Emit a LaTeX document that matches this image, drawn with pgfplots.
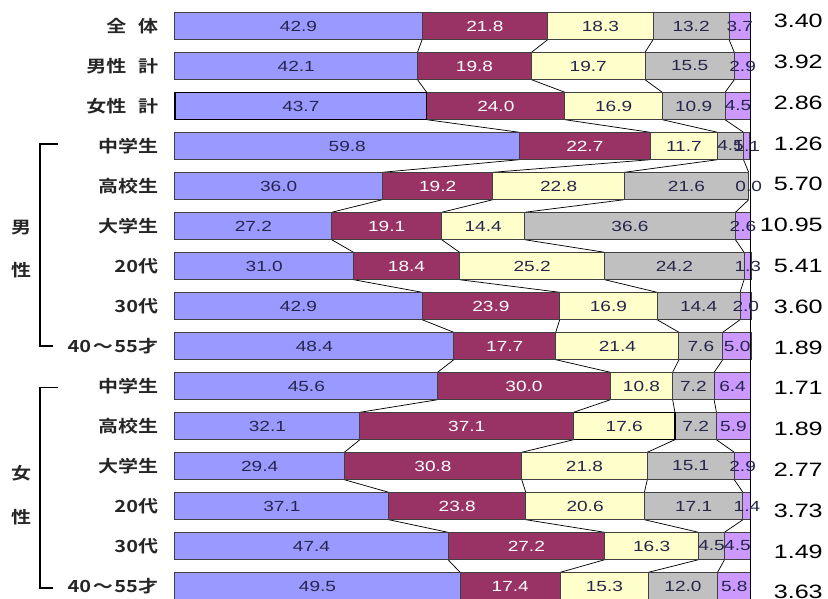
\documentclass[border=0pt]{standalone}
\usepackage{pgfplots}
\usepackage{pgfplotstable}
\pgfplotsset{compat=1.18}
\usepackage{fontspec}
\setmainfont{Liberation Sans}
\newfontfamily\numfont[FakeStretch=1.3]{Liberation Sans}
\newfontfamily\jpfont[FakeStretch=1.2, BoldFont={Noto Sans CJK JP Bold}]{Noto Sans CJK JP}

\definecolor{cA}{HTML}{9999FF}
\definecolor{cB}{HTML}{993366}
\definecolor{cC}{HTML}{FFFFCC}
\definecolor{cD}{HTML}{C0C0C0}
\definecolor{cE}{HTML}{CC99FF}
\definecolor{edge}{HTML}{404040}
\definecolor{ink}{HTML}{26264D}

% shares (%) of the five answer groups per respondent group, and the mean value
\pgfplotstableread{
y a b c d e avg
0 42.9 21.8 18.3 13.2 3.7 3.40
1 42.1 19.8 19.7 15.5 2.9 3.92
2 43.7 24.0 16.9 10.9 4.5 2.86
3 59.8 22.7 11.7 4.5 1.1 1.26
4 36.0 19.2 22.8 21.6 0.0 5.70
5 27.2 19.1 14.4 36.6 2.6 10.95
6 31.0 18.4 25.2 24.2 1.3 5.41
7 42.9 23.9 16.9 14.4 2.0 3.60
8 48.4 17.7 21.4 7.6 5.0 1.89
9 45.6 30.0 10.8 7.2 6.4 1.71
10 32.1 37.1 17.6 7.2 5.9 1.89
11 29.4 30.8 21.8 15.1 2.9 2.77
12 37.1 23.8 20.6 17.1 1.4 3.73
13 47.4 27.2 16.3 4.5 4.5 1.49
14 49.5 17.4 15.3 12.0 5.8 3.63
}\data

% cumulative segment ends
\pgfplotstablecreatecol[create col/expr={\thisrow{a}}]{c1}\data
\pgfplotstablecreatecol[create col/expr={\thisrow{c1}+\thisrow{b}}]{c2}\data
\pgfplotstablecreatecol[create col/expr={\thisrow{c2}+\thisrow{c}}]{c3}\data
\pgfplotstablecreatecol[create col/expr={\thisrow{c3}+\thisrow{d}}]{c4}\data
\pgfplotstablecreatecol[create col/expr={\thisrow{c4}+\thisrow{e}}]{c5}\data
% segment centres for the labels
\pgfplotstablecreatecol[create col/expr={\thisrow{a}/2}]{m1}\data
\pgfplotstablecreatecol[create col/expr={\thisrow{c1}+\thisrow{b}/2}]{m2}\data
\pgfplotstablecreatecol[create col/expr={\thisrow{c2}+\thisrow{c}/2}]{m3}\data
\pgfplotstablecreatecol[create col/expr={\thisrow{c3}+\thisrow{d}/2}]{m4}\data
\pgfplotstablecreatecol[create col/expr={\thisrow{c4}+\thisrow{e}/2}]{m5}\data

% shift of a boundary from one bar to the next one
\newcommand\mkstep[2]{%
  \pgfplotstablecreatecol[
    create col/assign/.code={%
      \getnextrow{#1}\nxt
      \ifx\nxt\empty \def\entry{0}%
      \else \pgfmathsetmacro\entry{\nxt-\thisrow{#1}}\fi
      \pgfkeyslet{/pgfplots/table/create col/next content}\entry
    }]{#2}\data}
\mkstep{c1}{u1}
\mkstep{c2}{u2}
\mkstep{c3}{u3}
\mkstep{c4}{u4}

\newcommand\segfont{\numfont\fontsize{11}{12}\selectfont}
\newcommand\avgfont{\numfont\fontsize{14.5}{16}\selectfont}
\newcommand\lblfont{\jpfont\bfseries\fontsize{12.5}{14}\selectfont}

\pgfplotsset{
  seglabel/.style={draw=none, point meta=explicit,
    nodes near coords={\pgfmathprintnumber[assume math mode=true,fixed,fixed zerofill,precision=1]{\pgfplotspointmeta}},
    every node near coord/.style={anchor=center, inner sep=0pt, font=\segfont, text=#1}},
  seg/.style={xbar, fill=#1, draw=edge, line width=0.75pt},
  link/.style={black, line width=0.55pt, quiver={u=\thisrow{#1}, v=0.315},
    skip coords between index={14}{15}},
}

\begin{document}
\begin{tikzpicture}
\begin{axis}[
  scale only axis, width=432pt, height=450pt,
  xmin=0, xmax=100, ymin=-0.5, ymax=14.5, y dir=reverse,
  axis lines*=left, axis line style={draw=none},
  xtick=\empty, ytick={0,...,14}, major tick length=0pt,
  ytick style={draw=none},
  yticklabels={{全\hspace{0.7em}体},{男性\hspace{0.7em}計},{女性\hspace{0.7em}計},
    中学生,高校生,大学生,20代,30代,{40\hspace{0.1em}～\hspace{0.1em}55才},
    中学生,高校生,大学生,20代,30代,{40\hspace{0.1em}～\hspace{0.1em}55才}},
  yticklabel style={font=\lblfont, text=black!85, inner sep=0pt, anchor=east, xshift=-12.5pt},
  bar width=0.685, clip=false,
]
% boundary links between neighbouring bars
\addplot[link=u1] table[x=c1, y expr=\thisrow{y}+0.3425] \data;
\addplot[link=u2] table[x=c2, y expr=\thisrow{y}+0.3425] \data;
\addplot[link=u3] table[x=c3, y expr=\thisrow{y}+0.3425] \data;
\addplot[link=u4] table[x=c4, y expr=\thisrow{y}+0.3425] \data;

% bars, longest cumulative first
\addplot[seg=cE] table[x=c5, y=y] \data;
\addplot[seg=cD] table[x=c4, y=y] \data;
\addplot[seg=cC] table[x=c3, y=y] \data;
\addplot[xbar, fill=none, draw=black, line width=1.1pt,
  skip coords between index={0}{10}, skip coords between index={11}{15}]
  table[x=c3, y=y] \data;
\addplot[seg=cB] table[x=c2, y=y] \data;
\addplot[seg=cA] table[x=c1, y=y] \data;
\addplot[xbar, fill=none, draw=black, line width=1.1pt,
  skip coords between index={0}{2}, skip coords between index={3}{15}]
  table[x=c1, y=y] \data;

% right edge line
\draw[black, line width=0.75pt] (axis cs:100,-0.34) -- (axis cs:100,14.6);

% segment values
\addplot[seglabel=ink] table[x=m1, y=y, meta=a] \data;
\addplot[seglabel=white] table[x=m2, y=y, meta=b] \data;
\addplot[seglabel=ink] table[x=m3, y=y, meta=c] \data;
\addplot[seglabel=ink] table[x=m4, y=y, meta=d] \data;
\addplot[seglabel=ink] table[x=m5, y=y, meta=e] \data;

% mean values on the right
\addplot[draw=none, point meta=explicit,
  nodes near coords={\pgfmathprintnumber[assume math mode=true,fixed,fixed zerofill,precision=2]{\pgfplotspointmeta}},
  every node near coord/.style={anchor=east, inner sep=0pt, font=\avgfont, text=black}]
  table[x expr=112.5, y expr=\thisrow{y}*1.02-0.125, meta=avg] \data;

% group brackets
\draw[black, line width=0.9pt] (axis cs:-20.3,2.95) -| (axis cs:-23.44,8.0) -- (axis cs:-21.2,8.0);
\draw[black, line width=0.9pt] (axis cs:-20.3,9.03) -| (axis cs:-23.44,14.05) -- (axis cs:-21.2,14.05);
\node[font=\lblfont, text=black!85] at (axis cs:-26.7,5.03) {男};
\node[font=\lblfont, text=black!85] at (axis cs:-26.7,6.1) {性};
\node[font=\lblfont, text=black!85] at (axis cs:-26.7,11.18) {女};
\node[font=\lblfont, text=black!85] at (axis cs:-26.7,12.28) {性};

\coordinate (tl) at (axis cs:-30.38,-0.65);
\coordinate (br) at (axis cs:113.37,14.325);
\end{axis}
\pgfresetboundingbox
\path[use as bounding box] (tl) rectangle (br);
\end{tikzpicture}
\end{document}
